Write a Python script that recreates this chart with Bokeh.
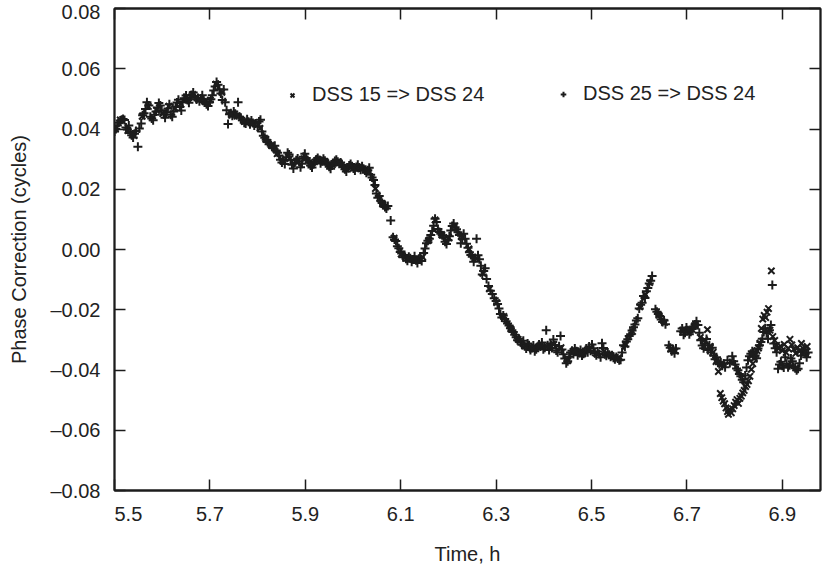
from bokeh.plotting import figure
from bokeh.models import (Range1d, LinearAxis, FixedTicker, CustomJSTickFormatter,
                          Legend, LegendItem, ColumnDataSource)
from bokeh.embed import file_html
from bokeh.resources import INLINE

# ---------------- data ----------------
x_ticks = [5.5, 5.7, 5.9, 6.1, 6.3, 6.5, 6.7, 6.9]
y_ticks = [-0.08, -0.06, -0.04, -0.02, 0.0, 0.02, 0.04, 0.06, 0.08]

# DSS 25 => DSS 24  (plus markers)
dss25_time = [
    5.500, 5.503, 5.506, 5.509, 5.512, 5.515, 5.518, 5.521, 5.524, 5.527, 5.530, 5.533, 5.536, 5.539, 5.542, 5.545, 5.549, 5.552, 5.556, 5.559, 5.562,
    5.565, 5.568, 5.572, 5.575, 5.578, 5.581, 5.584, 5.587, 5.590, 5.593, 5.596, 5.599, 5.603, 5.606, 5.609, 5.612, 5.615, 5.618, 5.621, 5.624, 5.628, 5.631, 5.634, 5.637, 5.640,
    5.643, 5.646, 5.650, 5.653, 5.656, 5.659, 5.662, 5.665, 5.668, 5.672, 5.675, 5.678, 5.681, 5.684, 5.687, 5.690, 5.693, 5.696, 5.699, 5.702, 5.705, 5.708, 5.711, 5.714, 5.717, 5.720, 5.723, 5.726, 5.729, 5.732,
    5.735, 5.738, 5.741, 5.744, 5.747, 5.750, 5.753, 5.756, 5.759, 5.762, 5.765, 5.768, 5.772, 5.775, 5.778, 5.781, 5.784, 5.787, 5.790, 5.793, 5.796, 5.800, 5.803, 5.806,
    5.809, 5.812, 5.815, 5.818, 5.821, 5.824, 5.827, 5.830, 5.833, 5.836, 5.839, 5.842, 5.845, 5.848, 5.851, 5.854, 5.857, 5.860, 5.863, 5.866, 5.869, 5.872, 5.875, 5.878, 5.881, 5.884, 5.887, 5.890, 5.893, 5.896, 5.899, 5.902,
    5.905, 5.908, 5.911, 5.914, 5.917, 5.920, 5.923, 5.926, 5.929, 5.932, 5.935, 5.938, 5.941, 5.944, 5.947, 5.950, 5.953, 5.956, 5.959, 5.962, 5.965, 5.968, 5.971, 5.974, 5.977, 5.980, 5.983, 5.986, 5.989, 5.992, 5.995, 5.998, 6.001, 6.004, 6.007, 6.010, 6.013, 6.016, 6.019, 6.022, 6.025, 6.028, 6.031, 6.034, 6.037, 6.040, 6.043,
    6.046, 6.049, 6.052, 6.055, 6.058, 6.061, 6.064, 6.067, 6.070, 6.073, 6.079, 6.084, 6.087, 6.090, 6.093, 6.096, 6.099, 6.102,
    6.105, 6.108, 6.111, 6.114, 6.117, 6.120, 6.123, 6.126, 6.129, 6.132, 6.135, 6.138, 6.141, 6.144, 6.148, 6.151, 6.154, 6.157, 6.160, 6.163, 6.166, 6.169, 6.172, 6.175,
    6.178, 6.181, 6.184, 6.187, 6.190, 6.193, 6.196, 6.199, 6.202, 6.205, 6.208, 6.211, 6.214, 6.217, 6.220, 6.223, 6.226, 6.229, 6.232, 6.235, 6.238, 6.241, 6.244, 6.247, 6.250,
    6.253, 6.256, 6.259, 6.262, 6.265, 6.268, 6.271, 6.274, 6.277, 6.280, 6.284, 6.288, 6.292, 6.296, 6.300, 6.303, 6.306, 6.309, 6.312, 6.315, 6.318, 6.321, 6.324, 6.327, 6.330, 6.333, 6.336,
    6.339, 6.342, 6.345, 6.348, 6.351, 6.354, 6.357, 6.360, 6.363, 6.366, 6.369, 6.372, 6.375, 6.378, 6.381, 6.384, 6.387, 6.390, 6.393, 6.396, 6.399, 6.402, 6.405, 6.408, 6.411,
    6.414, 6.417, 6.420, 6.423, 6.426, 6.429, 6.432, 6.435, 6.438, 6.441, 6.444, 6.447, 6.450, 6.453, 6.456, 6.459, 6.462, 6.465, 6.468, 6.471, 6.474, 6.477, 6.480, 6.483, 6.486,
    6.489, 6.492, 6.495, 6.498, 6.501, 6.504, 6.507, 6.510, 6.513, 6.516, 6.519, 6.522, 6.525, 6.528, 6.531, 6.534, 6.537, 6.540, 6.543, 6.546, 6.549, 6.552, 6.555, 6.558, 6.561,
    6.564, 6.567, 6.570, 6.573, 6.576, 6.579, 6.582, 6.585, 6.588, 6.591, 6.594, 6.597, 6.600, 6.603, 6.606, 6.609, 6.612, 6.615, 6.618, 6.621, 6.624, 6.627,
    6.634, 6.637, 6.640, 6.643, 6.646, 6.649, 6.652, 6.655, 6.662, 6.665, 6.668, 6.671, 6.674, 6.677, 6.687, 6.690, 6.693, 6.696, 6.699, 6.702, 6.705, 6.708, 6.711, 6.714, 6.717, 6.720, 6.723, 6.726,
    6.729, 6.732, 6.735, 6.738, 6.741, 6.744, 6.747, 6.750, 6.753, 6.756, 6.759, 6.762, 6.765, 6.768, 6.771, 6.774, 6.777, 6.780, 6.785, 6.790, 6.795, 6.798, 6.801, 6.804, 6.807,
    6.810, 6.813, 6.816, 6.819, 6.822, 6.825, 6.828, 6.831, 6.834, 6.837, 6.840, 6.843, 6.846, 6.849, 6.852, 6.855, 6.858, 6.861, 6.864, 6.867, 6.870, 6.873, 6.876, 6.879,
    6.882, 6.885, 6.888, 6.891, 6.894, 6.897, 6.900, 6.903, 6.906, 6.909, 6.912, 6.915, 6.918, 6.921, 6.924, 6.927, 6.930, 6.933, 6.936, 6.939, 6.942, 6.945, 6.948, 6.951, 6.954,
]
dss25_phase = [
    0.0392, 0.0400, 0.0412, 0.0421, 0.0428, 0.0431, 0.0433, 0.0430, 0.0405, 0.0398, 0.0412, 0.0387, 0.0379, 0.0372, 0.0384, 0.0393, 0.0341, 0.0402, 0.0418, 0.0446, 0.0452,
    0.0466, 0.0489, 0.0478, 0.0441, 0.0435, 0.0429, 0.0447, 0.0458, 0.0471, 0.0486, 0.0478, 0.0462, 0.0449, 0.0437, 0.0455, 0.0468, 0.0482, 0.0447, 0.0441, 0.0458, 0.0474, 0.0488, 0.0497, 0.0473, 0.0461,
    0.0490, 0.0502, 0.0511, 0.0496, 0.0487, 0.0504, 0.0513, 0.0521, 0.0506, 0.0498, 0.0503, 0.0492, 0.0501, 0.0512, 0.0497, 0.0488, 0.0482, 0.0476, 0.0491, 0.0499, 0.0512, 0.0528, 0.0541, 0.0556, 0.0547, 0.0532, 0.0518, 0.0496, 0.0531, 0.0489,
    0.0462, 0.0417, 0.0449, 0.0452, 0.0444, 0.0458, 0.0451, 0.0446, 0.0489, 0.0441, 0.0437, 0.0429, 0.0421, 0.0418, 0.0432, 0.0424, 0.0416, 0.0428, 0.0420, 0.0412, 0.0418, 0.0409, 0.0425, 0.0431,
    0.0392, 0.0378, 0.0371, 0.0364, 0.0357, 0.0349, 0.0352, 0.0341, 0.0336, 0.0344, 0.0329, 0.0321, 0.0312, 0.0298, 0.0289, 0.0296, 0.0284, 0.0306, 0.0321, 0.0315, 0.0298, 0.0281, 0.0269, 0.0287, 0.0296, 0.0302, 0.0291, 0.0273, 0.0285, 0.0308, 0.0318, 0.0304,
    0.0296, 0.0288, 0.0279, 0.0272, 0.0283, 0.0291, 0.0299, 0.0304, 0.0297, 0.0286, 0.0293, 0.0301, 0.0295, 0.0288, 0.0281, 0.0275, 0.0268, 0.0279, 0.0287, 0.0294, 0.0298, 0.0291, 0.0285, 0.0289, 0.0281, 0.0274, 0.0266, 0.0259, 0.0271, 0.0279, 0.0284, 0.0276, 0.0269, 0.0262, 0.0274, 0.0281, 0.0272, 0.0265, 0.0276, 0.0268, 0.0262, 0.0255, 0.0263, 0.0271, 0.0248, 0.0239, 0.0231,
    0.0214, 0.0186, 0.0172, 0.0178, 0.0162, 0.0154, 0.0148, 0.0141, 0.0136, 0.0144, 0.0096, 0.0041, 0.0033, 0.0028, 0.0011, 0.0004, -0.0008, -0.0013,
    -0.0026, -0.0018, -0.0031, -0.0037, -0.0024, -0.0029, -0.0041, -0.0033, -0.0022, -0.0036, -0.0045, -0.0031, -0.0027, -0.0038, -0.0012, 0.0003, 0.0021, 0.0029, 0.0036, 0.0048, 0.0061, 0.0079, 0.0102, 0.0091,
    0.0068, 0.0058, 0.0052, 0.0047, 0.0039, 0.0026, 0.0018, 0.0031, 0.0044, 0.0063, 0.0078, 0.0086, 0.0074, 0.0067, 0.0057, 0.0048, 0.0021, 0.0035, 0.0052, 0.0036, 0.0019, 0.0006, -0.0009, -0.0018, -0.0024,
    -0.0041, -0.0028, 0.0036, -0.0019, -0.0032, -0.0054, -0.0083, -0.0071, -0.0062, -0.0098, -0.0121, -0.0137, -0.0148, -0.0162, -0.0171, -0.0181, -0.0196, -0.0214, -0.0226, -0.0219, -0.0231, -0.0238, -0.0246, -0.0252, -0.0261, -0.0268, -0.0274,
    -0.0283, -0.0291, -0.0301, -0.0296, -0.0308, -0.0316, -0.0303, -0.0321, -0.0329, -0.0312, -0.0318, -0.0334, -0.0327, -0.0319, -0.0338, -0.0331, -0.0324, -0.0315, -0.0322, -0.0309, -0.0331, -0.0326, -0.0268, -0.0318, -0.0334,
    -0.0312, -0.0327, -0.0299, -0.0317, -0.0335, -0.0341, -0.0321, -0.0287, -0.0332, -0.0348, -0.0362, -0.0378, -0.0371, -0.0356, -0.0342, -0.0336, -0.0347, -0.0329, -0.0338, -0.0351, -0.0343, -0.0334, -0.0352, -0.0346, -0.0338,
    -0.0329, -0.0341, -0.0322, -0.0336, -0.0315, -0.0328, -0.0344, -0.0351, -0.0339, -0.0347, -0.0358, -0.0311, -0.0327, -0.0348, -0.0353, -0.0342, -0.0349, -0.0356, -0.0351, -0.0359, -0.0364, -0.0357, -0.0362, -0.0368, -0.0366,
    -0.0342, -0.0318, -0.0322, -0.0305, -0.0298, -0.0287, -0.0281, -0.0269, -0.0258, -0.0249, -0.0236, -0.0228, -0.0196, -0.0183, -0.0177, -0.0154, -0.0161, -0.0139, -0.0128, -0.0113, -0.0104, -0.0088,
    -0.0198, -0.0207, -0.0214, -0.0221, -0.0232, -0.0241, -0.0236, -0.0248, -0.0318, -0.0326, -0.0338, -0.0331, -0.0344, -0.0329, -0.0271, -0.0262, -0.0283, -0.0276, -0.0259, -0.0268, -0.0281, -0.0273, -0.0264, -0.0256, -0.0249, -0.0238, -0.0251, -0.0276,
    -0.0301, -0.0319, -0.0328, -0.0312, -0.0297, -0.0334, -0.0318, -0.0341, -0.0326, -0.0352, -0.0364, -0.0358, -0.0376, -0.0381, -0.0374, -0.0386, -0.0379, -0.0391, -0.0368, -0.0377, -0.0354, -0.0371, -0.0382, -0.0395, -0.0401,
    -0.0413, -0.0421, -0.0432, -0.0441, -0.0418, -0.0392, -0.0368, -0.0354, -0.0346, -0.0338, -0.0343, -0.0352, -0.0361, -0.0329, -0.0318, -0.0307, -0.0296, -0.0274, -0.0261, -0.0278, -0.0296, -0.0268, -0.0251, -0.0118,
    -0.0312, -0.0328, -0.0341, -0.0396, -0.0382, -0.0373, -0.0386, -0.0392, -0.0358, -0.0379, -0.0391, -0.0384, -0.0362, -0.0371, -0.0389, -0.0394, -0.0401, -0.0396, -0.0378, -0.0352, -0.0339, -0.0331, -0.0346, -0.0358, -0.0342,
]

# DSS 15 => DSS 24  (x markers)
dss15_time = [
    5.502, 5.512, 5.528, 5.541, 5.558, 5.571, 5.588, 5.601, 5.614, 5.627, 5.639, 5.651, 5.664, 5.677, 5.689, 5.701, 5.713, 5.725, 5.745, 5.757,
    5.772, 5.789, 5.805, 5.817, 5.829, 5.841, 5.853, 5.868, 5.882, 5.897, 5.912, 5.927, 5.942, 5.957, 5.971, 5.986, 6.001, 6.016, 6.031, 6.047,
    6.062, 6.086, 6.101, 6.116, 6.131, 6.146, 6.159, 6.172, 6.186, 6.201, 6.213, 6.228, 6.243, 6.258, 6.272, 6.286, 6.301, 6.316, 6.331, 6.346,
    6.361, 6.376, 6.391, 6.406, 6.421, 6.436, 6.451, 6.466, 6.481, 6.496, 6.511, 6.526, 6.541, 6.556, 6.571, 6.586, 6.601, 6.613, 6.622, 6.641,
    6.653, 6.666, 6.676, 6.691, 6.703, 6.716, 6.728, 6.737, 6.743, 6.749, 6.755, 6.761, 6.766, 6.770, 6.773, 6.776, 6.779, 6.782, 6.785, 6.787,
    6.790, 6.793, 6.796, 6.799, 6.802, 6.805, 6.808, 6.811, 6.814, 6.817, 6.820, 6.823, 6.826, 6.829, 6.832, 6.835, 6.838, 6.841, 6.844, 6.847,
    6.850, 6.853, 6.856, 6.859, 6.862, 6.865, 6.868, 6.871, 6.874, 6.877, 6.880, 6.884, 6.888, 6.892, 6.896, 6.900, 6.904, 6.908, 6.912, 6.916,
    6.920, 6.924, 6.928, 6.932, 6.936, 6.940, 6.944, 6.948, 6.952,
]
dss15_phase = [
    0.0401, 0.0430, 0.0395, 0.0378, 0.0442, 0.0475, 0.0462, 0.0451, 0.0476, 0.0469, 0.0483, 0.0507, 0.0515, 0.0497, 0.0492, 0.0496, 0.0549, 0.0522, 0.0448, 0.0443,
    0.0425, 0.0418, 0.0402, 0.0366, 0.0346, 0.0318, 0.0293, 0.0302, 0.0291, 0.0301, 0.0284, 0.0299, 0.0291, 0.0282, 0.0288, 0.0268, 0.0271, 0.0268, 0.0259, 0.0202,
    0.0151, 0.0038, -0.0015, -0.0030, -0.0034, -0.0025, 0.0031, 0.0098, 0.0049, 0.0039, 0.0078, 0.0041, 0.0002, -0.0031, -0.0079, -0.0131, -0.0176, -0.0222, -0.0264, -0.0298,
    -0.0318, -0.0331, -0.0321, -0.0322, -0.0315, -0.0326, -0.0368, -0.0336, -0.0347, -0.0332, -0.0346, -0.0338, -0.0352, -0.0360, -0.0315, -0.0272, -0.0190, -0.0150, -0.0110, -0.0218,
    -0.0242, -0.0331, -0.0337, -0.0268, -0.0266, -0.0253, -0.0292, -0.0300, -0.0266, -0.0322, -0.0341, -0.0372, -0.0405, -0.0478, -0.0492, -0.0503, -0.0512, -0.0526, -0.0538, -0.0547,
    -0.0531, -0.0542, -0.0529, -0.0518, -0.0507, -0.0498, -0.0511, -0.0494, -0.0487, -0.0476, -0.0468, -0.0455, -0.0448, -0.0436, -0.0421, -0.0398, -0.0379, -0.0362, -0.0348, -0.0336,
    -0.0327, -0.0311, -0.0262, -0.0231, -0.0219, -0.0226, -0.0208, -0.0196, -0.0268, -0.0071, -0.0289, -0.0302, -0.0318, -0.0329, -0.0321, -0.0336, -0.0315, -0.0342, -0.0328, -0.0298,
    -0.0317, -0.0331, -0.0345, -0.0326, -0.0338, -0.0312, -0.0329, -0.0341, -0.0322,
]

n25 = min(len(dss25_time), len(dss25_phase))
n15 = min(len(dss15_time), len(dss15_phase))
src25 = ColumnDataSource(dict(t=dss25_time[:n25], v=dss25_phase[:n25]))
src15 = ColumnDataSource(dict(t=dss15_time[:n15], v=dss15_phase[:n15]))

# ---------------- figure ----------------
FONT = "Liberation Sans"
INK = "#1c1c1c"
TXT = "#222222"

p = figure(width=822, height=567, output_backend="svg", toolbar_location=None,
           x_range=Range1d(5.5, 6.98), y_range=Range1d(-0.08, 0.08),
           min_border_left=114, min_border_right=2, min_border_top=8, min_border_bottom=73)
p.grid.visible = False
p.outline_line_color = INK
p.outline_line_width = 1.8
p.background_fill_color = "white"
p.border_fill_color = "white"

xt = FixedTicker(ticks=x_ticks)
yt = FixedTicker(ticks=y_ticks)

def style(ax, labels=True):
    ax.axis_line_color = INK
    ax.axis_line_width = 1.8
    ax.major_tick_line_color = INK
    ax.major_tick_line_width = 1.5
    ax.major_tick_in = 11
    ax.major_tick_out = 0
    ax.minor_tick_line_color = None
    ax.major_label_text_font = FONT
    ax.major_label_text_color = TXT
    ax.axis_label_text_font = FONT
    ax.axis_label_text_font_size = "20px"
    ax.axis_label_text_font_style = "normal"
    ax.axis_label_text_color = TXT
    if labels:
        ax.major_label_text_font_size = "20px"
    else:
        ax.major_label_text_font_size = "0px"
        ax.major_label_standoff = 0

xa = p.xaxis[0]
xa.ticker = xt
# the first label sits just inside the frame in the original; pad it with no-break spaces
xa.formatter = CustomJSTickFormatter(
    code="var s = tick.toFixed(1); return tick < 5.55 ? '\u00a0\u00a0\u00a0\u00a0\u00a0' + s : s;")
style(xa)
xa.major_label_standoff = 12
xa.axis_label = "Time, h"
xa.axis_label_standoff = 15

ya = p.yaxis[0]
ya.ticker = yt
ya.formatter = CustomJSTickFormatter(
    code="return (tick < -1e-9 ? '\u2013' : '') + Math.abs(tick).toFixed(2);")
style(ya)
ya.major_label_standoff = 14
ya.axis_label = "Phase Correction (cycles)"
ya.axis_label_standoff = 17

top = LinearAxis(ticker=xt, formatter=CustomJSTickFormatter(code="return '';"))
style(top, labels=False)
p.add_layout(top, "above")
right = LinearAxis(ticker=yt, formatter=CustomJSTickFormatter(code="return '';"))
style(right, labels=False)
p.add_layout(right, "right")

r25 = p.scatter(x="t", y="v", source=src25, marker="cross", size=9,
                line_color=INK, line_width=2)
r15 = p.scatter(x="t", y="v", source=src15, marker="x", size=9,
                line_color=INK, line_width=2)

def make_legend(label, rend, loc):
    return Legend(items=[LegendItem(label=label, renderers=[rend])], location=loc,
                  border_line_color=None, background_fill_alpha=0, padding=0, margin=0,
                  spacing=0, glyph_width=14, glyph_height=20, label_height=20,
                  label_standoff=13, label_text_font=FONT, label_text_font_size="20px",
                  label_text_color=TXT)

p.add_layout(make_legend("DSS 15 => DSS 24", r15, (171, 384)))
p.add_layout(make_legend("DSS 25 => DSS 24", r25, (442, 385)))

open("out.html", "w").write(file_html(p, INLINE))
